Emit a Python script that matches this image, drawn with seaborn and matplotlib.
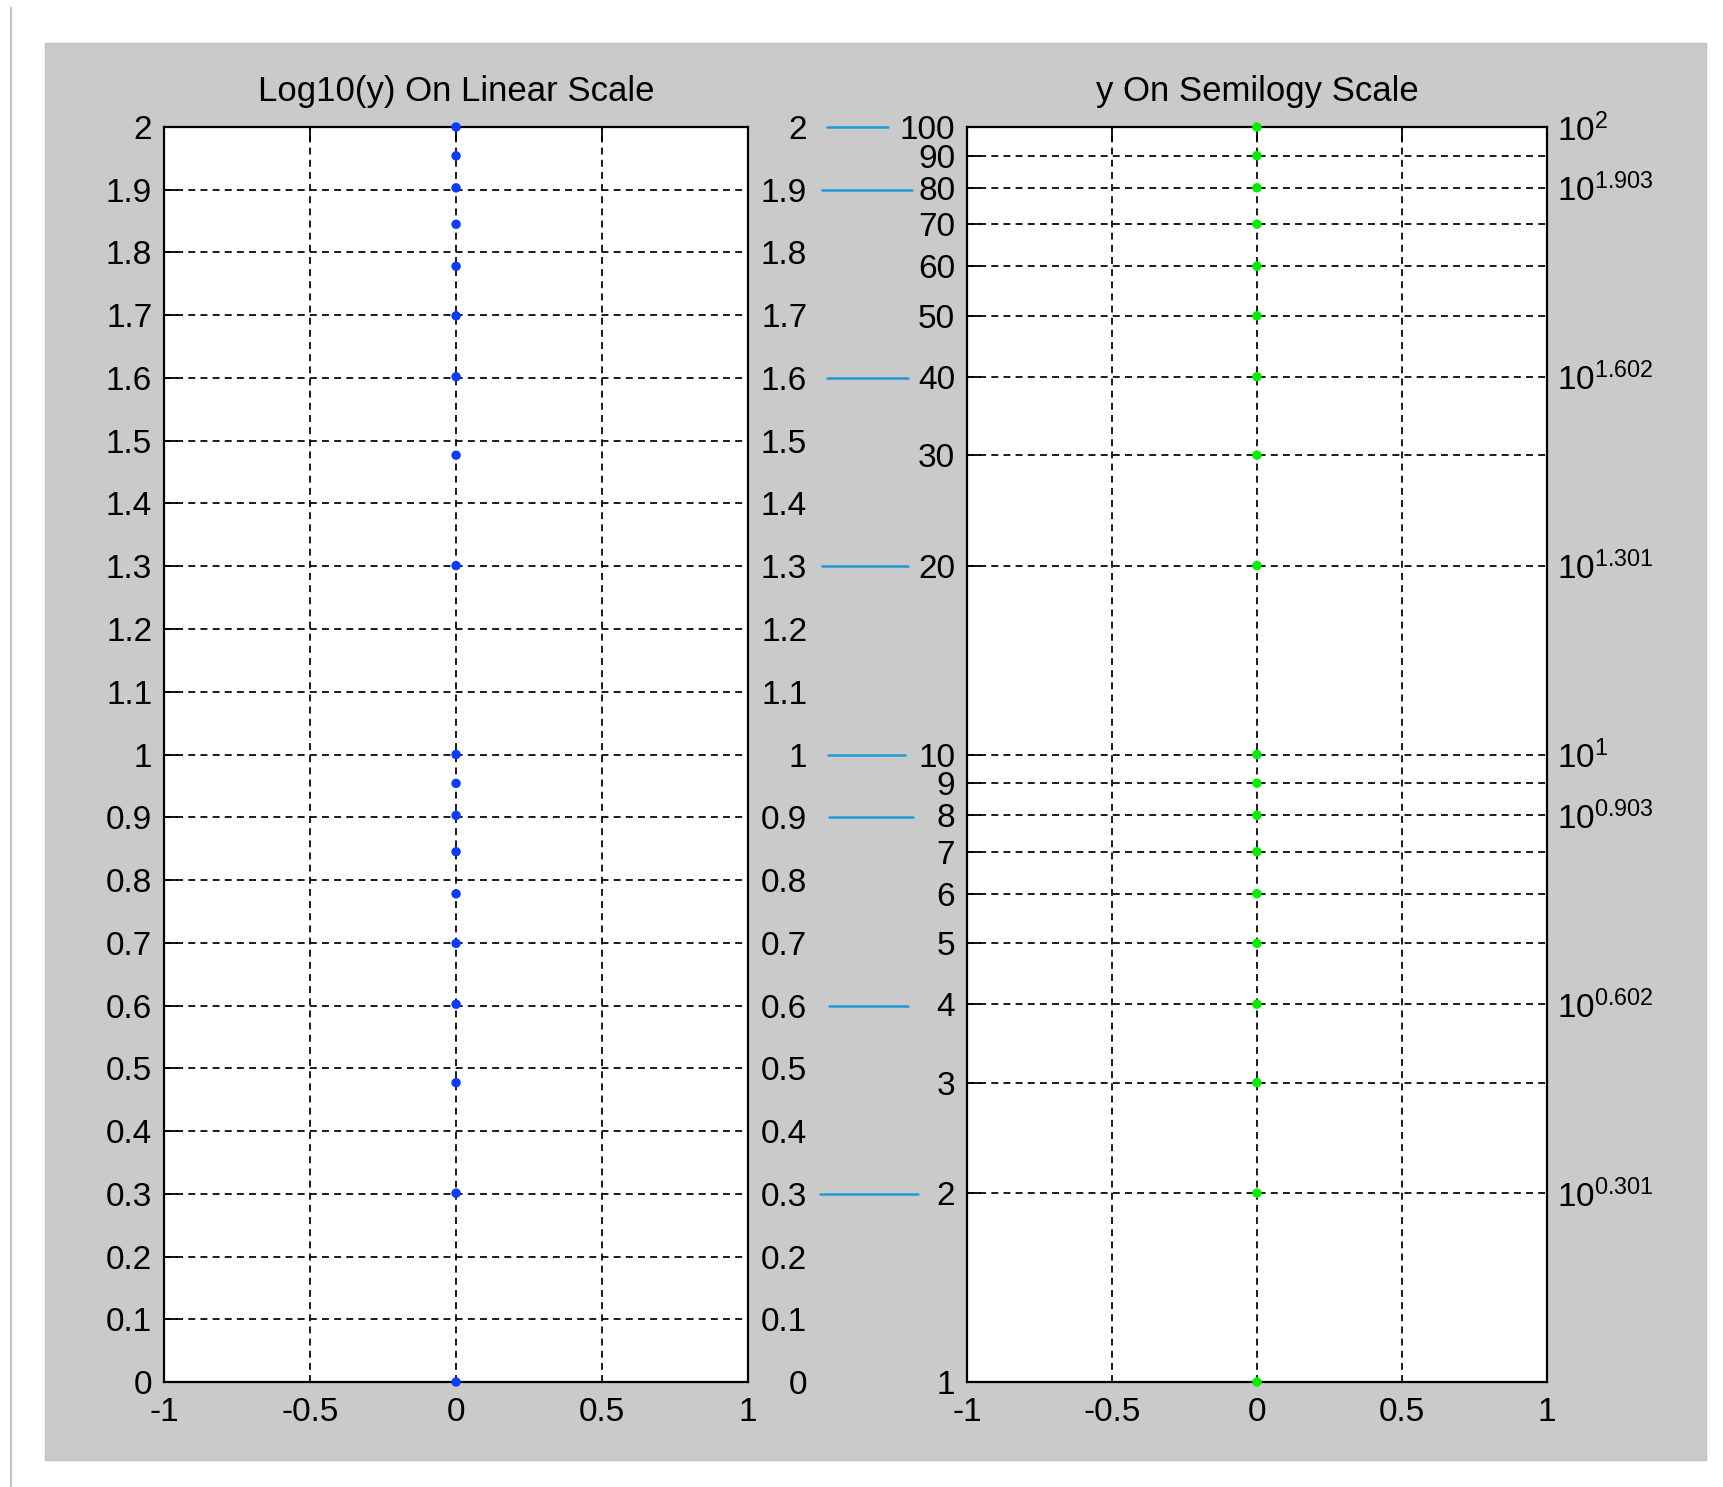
import matplotlib
matplotlib.use("Agg")
import matplotlib.pyplot as plt
import matplotlib.transforms as mtransforms
from matplotlib.patches import Rectangle
from matplotlib.lines import Line2D
from matplotlib.ticker import NullLocator
import seaborn as sns

# ---------------- data ----------------
y_values = [1, 2, 3, 4, 5, 6, 7, 8, 9, 10, 20, 30, 40, 50, 60, 70, 80, 90, 100]
log_y_values = [0.0, 0.301, 0.477, 0.602, 0.699, 0.778, 0.845, 0.903, 0.954, 1.0,
                1.301, 1.477, 1.602, 1.699, 1.778, 1.845, 1.903, 1.954, 2.0]
x_values = [0] * 19

linear_ticks = [0.0, 0.1, 0.2, 0.3, 0.4, 0.5, 0.6, 0.7, 0.8, 0.9, 1.0,
                1.1, 1.2, 1.3, 1.4, 1.5, 1.6, 1.7, 1.8, 1.9, 2.0]
linear_tick_labels = ['0', '0.1', '0.2', '0.3', '0.4', '0.5', '0.6', '0.7', '0.8', '0.9', '1',
                      '1.1', '1.2', '1.3', '1.4', '1.5', '1.6', '1.7', '1.8', '1.9', '2']
x_ticks = [-1, -0.5, 0, 0.5, 1]
x_tick_labels = ['-1', '-0.5', '0', '0.5', '1']
semilog_ticks = [1, 2, 3, 4, 5, 6, 7, 8, 9, 10, 20, 30, 40, 50, 60, 70, 80, 90, 100]
semilog_tick_labels = ['1', '2', '3', '4', '5', '6', '7', '8', '9', '10',
                       '20', '30', '40', '50', '60', '70', '80', '90', '100']
exp_ticks = [2, 4, 8, 10, 20, 40, 80, 100]
exp_labels = ['0.301', '0.602', '0.903', '1', '1.301', '1.602', '1.903', '2']
link_left_values = [0.3, 0.6, 0.9, 1.0, 1.3, 1.6, 1.9, 2.0]
link_right_values = [2, 4, 8, 10, 20, 40, 80, 100]

# ---------------- style ----------------
link_x_start = [0.4759, 0.481, 0.481, 0.4806, 0.4771, 0.4797, 0.4771, 0.4797]
link_x_end = [0.5328, 0.5269, 0.5299, 0.5253, 0.5269, 0.5269, 0.5294, 0.5154]

sns.set_style("white")
plt.rcParams['font.family'] = ['Liberation Sans', 'DejaVu Sans']
plt.rcParams['mathtext.fontset'] = 'custom'
plt.rcParams['mathtext.rm'] = 'Liberation Sans'
plt.rcParams['text.color'] = 'black'
plt.rcParams['axes.titlecolor'] = 'black'

FS = 24
fig = plt.figure(figsize=(17.23, 14.87), dpi=100)
fig.patch.set_facecolor('white')

# gray panel and page edge
fig.patches.append(Rectangle((0.0261, 0.0182), 0.964, 0.953, transform=fig.transFigure,
                             facecolor='#cacaca', edgecolor='#c2c2c2', linewidth=1.0, zorder=-10))
fig.add_artist(Line2D([0.0064, 0.0064], [0.0, 0.9946], transform=fig.transFigure,
                      color='#c4c4c4', linewidth=1.6))

ax1 = fig.add_axes([0.0952, 0.0706, 0.339, 0.844])
ax2 = fig.add_axes([0.5612, 0.0706, 0.3366, 0.844])


def style(ax):
    ax.set_facecolor('white')
    for s in ax.spines.values():
        s.set_visible(True)
        s.set_linewidth(1.6)
        s.set_color('black')
    ax.tick_params(axis='both', which='both', direction='in', length=10, width=1.3,
                   colors='black', labelsize=FS, top=True, right=True,
                   labelright=False, labeltop=False)
    ax.tick_params(axis='x', pad=11)
    ax.tick_params(axis='y', pad=8.5)
    ax.grid(True, which='major', color='black', linestyle=(0, (4, 3)), linewidth=1.25)
    ax.set_axisbelow(False)
    ax.set_xlim(-1, 1)
    ax.set_xticks(x_ticks, labels=x_tick_labels)
    ax.set_xlabel('')
    ax.set_ylabel('')


# ---- left: log10(y) on linear scale ----
sns.scatterplot(x=x_values, y=log_y_values, ax=ax1, color='#0a3cff', s=46,
                edgecolor='none', zorder=5, clip_on=False)
style(ax1)
ax1.set_ylim(0, 2)
ax1.set_yticks(linear_ticks, labels=linear_tick_labels)
ax1.set_title('Log10(y) On Linear Scale', fontsize=25, pad=19, color='black')

ax1r = ax1.twinx()
ax1r.set_ylim(0, 2)
ax1r.set_yticks(linear_ticks, labels=linear_tick_labels)
ax1r.tick_params(axis='y', direction='in', length=0, pad=42.5, labelsize=FS, colors='black')
ax1r.grid(False)
for sp in ax1r.spines.values():
    sp.set_visible(False)
for t in ax1r.yaxis.get_major_ticks():
    t.label2.set_horizontalalignment('right')

# ---- right: y on semilogy scale ----
sns.scatterplot(x=x_values, y=y_values, ax=ax2, color='#00f000', s=46,
                edgecolor='none', zorder=5, clip_on=False)
ax2.set_yscale('log')
style(ax2)
ax2.set_ylim(1, 100)
ax2.set_yticks(semilog_ticks, labels=semilog_tick_labels)
ax2.yaxis.set_minor_locator(NullLocator())
ax2.set_title('y On Semilogy Scale', fontsize=25, pad=19, color='black')

ax2r = ax2.twinx()
ax2r.set_yscale('log')
ax2r.set_ylim(1, 100)
ax2r.set_yticks(exp_ticks, labels=[r'$\mathregular{10^{%s}}$' % e for e in exp_labels])
ax2r.yaxis.set_minor_locator(NullLocator())
ax2r.tick_params(axis='y', which='both', direction='in', length=0, pad=7, labelsize=FS, colors='black')
ax2r.grid(False)
for sp in ax2r.spines.values():
    sp.set_visible(False)

# ---- connector lines between the two scales ----
link_trans = mtransforms.blended_transform_factory(fig.transFigure, ax1.transData)
for v, xs, xe in zip(link_left_values, link_x_start, link_x_end):
    fig.add_artist(Line2D([xs, xe], [v, v], transform=link_trans,
                          color='#1f9ad6', linewidth=1.8))

fig.savefig('out.png', dpi=100)
